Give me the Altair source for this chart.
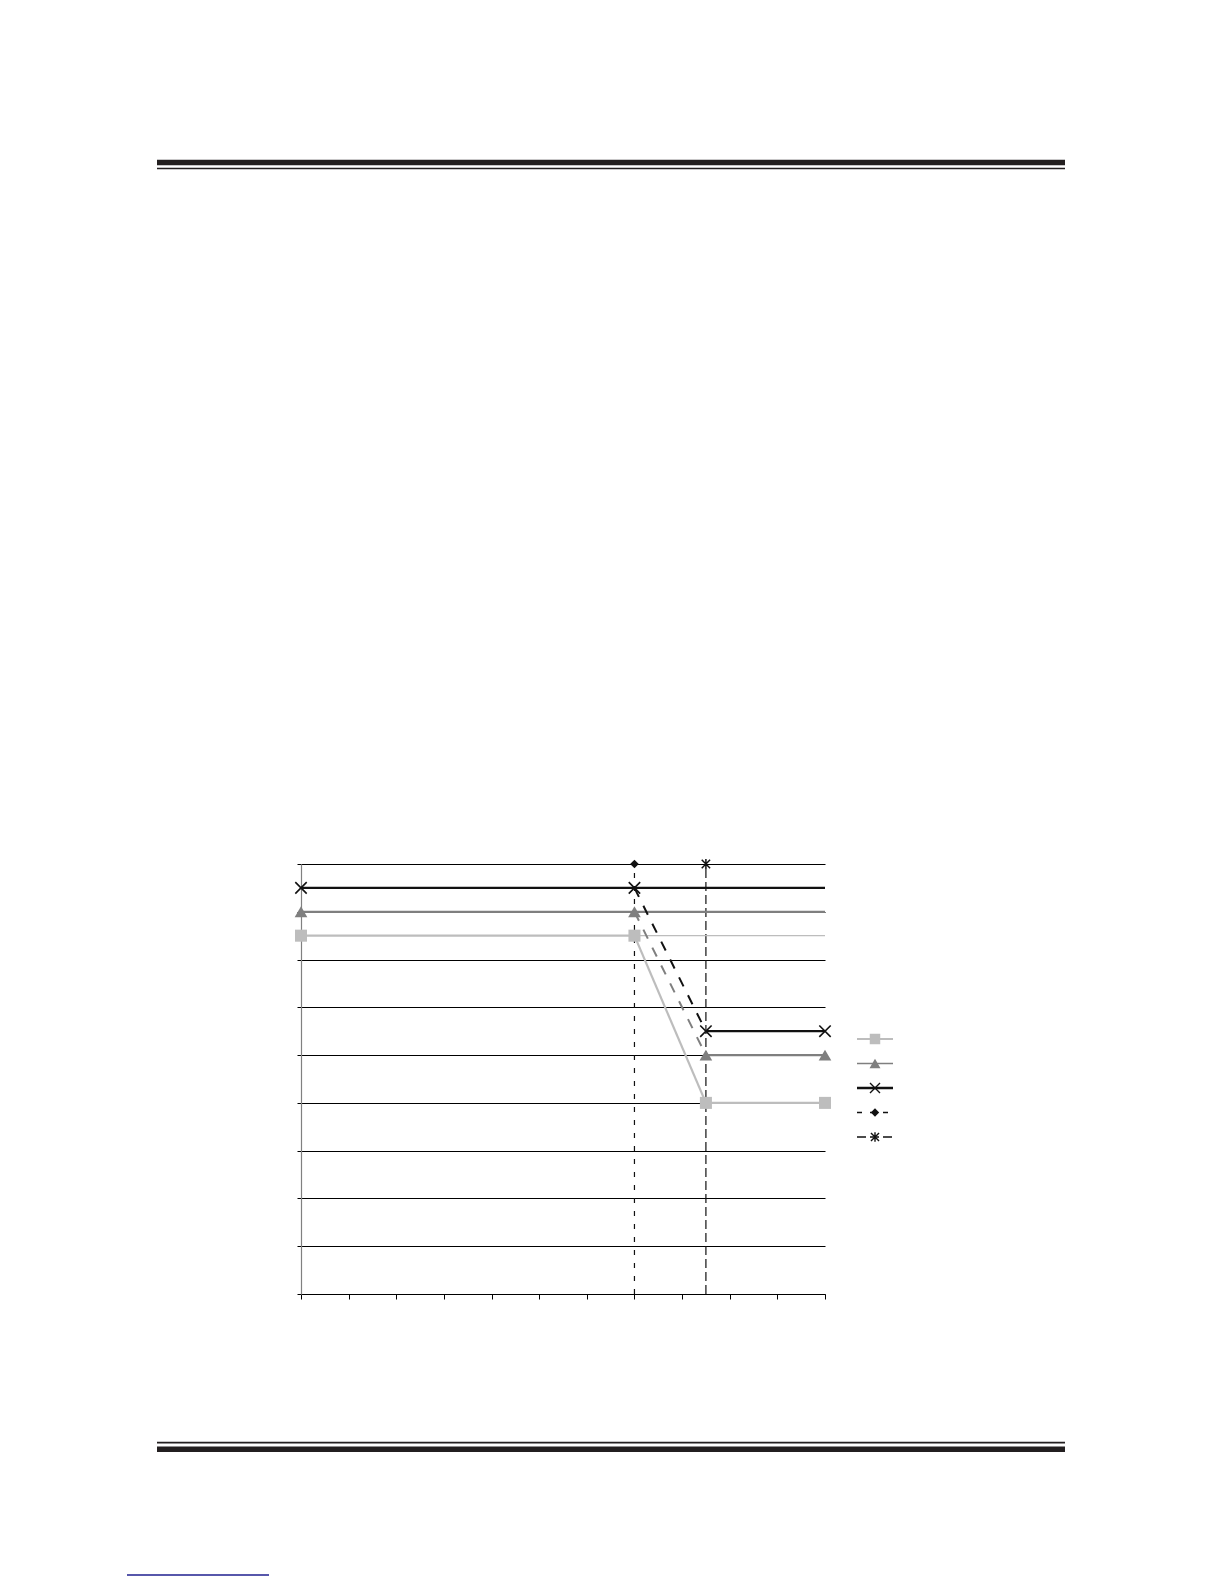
import altair as alt
import pandas as pd

# ---------------- data ----------------
x_ticks = list(range(0, 12))          # 0 .. 11
y_ticks = list(range(0, 10))          # 0 .. 9
x_domain = [0, 11]
y_domain = [0, 9]

event_x = [7, 8.5]                    # the two vertical event lines
event_top = 9                         # level of the event markers

series_x = [0, 7, 8.5, 11]
square_y = [7.5, 7.5, 4.0, 4.0]
triangle_y = [8.0, 8.0, 5.0, 5.0]
cross_y = [8.5, 8.5, 5.5, 5.5]

legend_rows = [0, 1, 2, 3, 4]

# ---------------- styles ----------------
C_LIGHT = "#bdbdbd"
C_MID = "#7f7f7f"
C_BLACK = "#111111"
X_PATH = "M-1,-1L1,1M-1,1L1,-1"
AST_PATH = "M-1,-1L1,1M-1,1L1,-1M0,-1.2L0,1.2"

PLOT_W, PLOT_H = 524, 430

xscale = alt.Scale(domain=x_domain, nice=False, zero=False)
yscale = alt.Scale(domain=y_domain, nice=False, zero=False)
xaxis = alt.Axis(values=x_ticks, labels=False, title=None, grid=False,
                 domainColor="#000000", domainWidth=1, tickColor="#000000",
                 tickSize=5, tickWidth=1)
yaxis = alt.Axis(values=y_ticks, labels=False, title=None, grid=True,
                 gridColor="#000000", gridWidth=1, gridOpacity=1,
                 domainColor="#808080", domainWidth=1.2, tickColor="#000000",
                 tickSize=4, tickWidth=1)


def seg_df(xs, ys):
    rows = []
    rows.append(dict(part="before", x=xs[0], y=ys[0], x2=xs[1], y2=ys[1]))
    rows.append(dict(part="drop", x=xs[1], y=ys[1], x2=xs[2], y2=ys[2]))
    rows.append(dict(part="after", x=xs[2], y=ys[2], x2=xs[3], y2=ys[3]))
    rows.append(dict(part="cont", x=xs[1], y=ys[1], x2=xs[3], y2=ys[1]))
    return pd.DataFrame(rows)


def seg_layer(df, parts, color, width, dash=None):
    d = df[df["part"].isin(parts)]
    kw = dict(color=color, strokeWidth=width, strokeCap="butt")
    if dash:
        kw["strokeDash"] = dash
    return alt.Chart(d).mark_rule(**kw).encode(
        x=alt.X("x:Q", scale=xscale, axis=xaxis),
        x2="x2:Q",
        y=alt.Y("y:Q", scale=yscale, axis=yaxis),
        y2="y2:Q",
    )


def pts_layer(xs, ys, shape, color, size, filled=True, sw=1.5):
    d = pd.DataFrame({"x": xs, "y": ys})
    if filled:
        m = alt.Chart(d).mark_point(shape=shape, filled=True, color=color,
                                    size=size, opacity=1)
    else:
        m = alt.Chart(d).mark_point(shape=shape, filled=False, color=color,
                                    size=size, strokeWidth=sw, opacity=1)
    return m.encode(x=alt.X("x:Q", scale=xscale, axis=xaxis),
                    y=alt.Y("y:Q", scale=yscale, axis=yaxis))


sq = seg_df(series_x, square_y)
tri = seg_df(series_x, triangle_y)
crs = seg_df(series_x, cross_y)

ev_df = pd.DataFrame({"x": event_x, "y": [0, 0], "y2": [event_top, event_top],
                      "kind": ["diamond", "asterisk"]})
ev1 = alt.Chart(ev_df[ev_df.kind == "diamond"]).mark_rule(
    color=C_BLACK, strokeWidth=1.2, strokeDash=[5, 8]).encode(
    x=alt.X("x:Q", scale=xscale, axis=xaxis),
    y=alt.Y("y:Q", scale=yscale, axis=yaxis), y2="y2:Q")
ev2 = alt.Chart(ev_df[ev_df.kind == "asterisk"]).mark_rule(
    color=C_BLACK, strokeWidth=1.2, strokeDash=[9, 4]).encode(
    x=alt.X("x:Q", scale=xscale, axis=xaxis),
    y=alt.Y("y:Q", scale=yscale, axis=yaxis), y2="y2:Q")

main = alt.layer(
    ev1, ev2,
    seg_layer(sq, ["cont"], C_LIGHT, 1.3),
    seg_layer(tri, ["before", "cont", "after"], C_MID, 2.2),
    seg_layer(crs, ["before", "cont", "after"], C_BLACK, 2.2),
    seg_layer(tri, ["drop"], C_MID, 2.0, [10, 10]),
    seg_layer(crs, ["drop"], C_BLACK, 2.0, [10, 10]),
    seg_layer(sq, ["before", "drop", "after"], C_LIGHT, 2.2),
    pts_layer(series_x, square_y, "square", C_LIGHT, 145),
    pts_layer(series_x, triangle_y, "triangle-up", C_MID, 160),
    pts_layer(series_x, cross_y, X_PATH, C_BLACK, 130, filled=False, sw=1.6),
    pts_layer([event_x[0]], [event_top], "diamond", C_BLACK, 75),
    pts_layer([event_x[1]], [event_top], AST_PATH, C_BLACK, 70, filled=False, sw=1.5),
)

# ---------------- legend (no labels, as in the reference) ----------------
leg_scale = alt.Scale(domain=[0, 4], range=[175, 273])
leg_specs = [
    dict(color=C_LIGHT, width=2.2, dash=None, shape="square", filled=True, size=110),
    dict(color=C_MID, width=1.6, dash=None, shape="triangle-up", filled=True, size=120),
    dict(color=C_BLACK, width=2.6, dash=None, shape=X_PATH, filled=False, size=100),
    dict(color=C_BLACK, width=1.3, dash=[5, 8], shape="diamond", filled=True, size=70),
    dict(color=C_BLACK, width=1.6, dash=[9, 4], shape=AST_PATH, filled=False, size=65),
]
leg_layers = []
for r, spec in zip(legend_rows, leg_specs):
    d = pd.DataFrame({"row": [r]})
    kw = dict(color=spec["color"], strokeWidth=spec["width"], strokeCap="butt")
    if spec["dash"]:
        kw["strokeDash"] = spec["dash"]
    leg_layers.append(alt.Chart(d).mark_rule(**kw).encode(
        x=alt.value(556), x2=alt.value(592),
        y=alt.Y("row:Q", scale=leg_scale, axis=None)))
    if spec["filled"]:
        pm = alt.Chart(d).mark_point(shape=spec["shape"], filled=True,
                                     color=spec["color"], size=spec["size"], opacity=1)
    else:
        pm = alt.Chart(d).mark_point(shape=spec["shape"], filled=False,
                                     color=spec["color"], size=spec["size"],
                                     strokeWidth=1.4, opacity=1)
    leg_layers.append(pm.encode(x=alt.value(574),
                                y=alt.Y("row:Q", scale=leg_scale, axis=None)))
legend = alt.layer(*leg_layers)

# ---------------- page rules (header / footer decoration) ----------------
one = pd.DataFrame({"k": [0]})
deco = alt.layer(
    alt.Chart(one).mark_rule(color="#231f20", strokeWidth=5.5, strokeCap="butt").encode(
        x=alt.value(-144), x2=alt.value(764), y=alt.value(-701.5)),
    alt.Chart(one).mark_rule(color="#231f20", strokeWidth=1.5, strokeCap="butt").encode(
        x=alt.value(-144), x2=alt.value(764), y=alt.value(-695.5)),
    alt.Chart(one).mark_rule(color="#231f20", strokeWidth=1.8, strokeCap="butt").encode(
        x=alt.value(-144), x2=alt.value(764), y=alt.value(578.7)),
    alt.Chart(one).mark_rule(color="#231f20", strokeWidth=5.5, strokeCap="butt").encode(
        x=alt.value(-144), x2=alt.value(764), y=alt.value(585.3)),
    alt.Chart(one).mark_rule(color="#1f1f8f", strokeWidth=1.5, strokeCap="butt").encode(
        x=alt.value(-174), x2=alt.value(-32), y=alt.value(711)),
)

chart = alt.layer(main, legend, deco).resolve_scale(y="independent").properties(
    width=PLOT_W, height=PLOT_H,
    padding={"left": 293, "top": 856, "right": 391, "bottom": 282},
    autosize=alt.AutoSizeParams(type="none"),
    background="white",
).configure_view(stroke=None)

chart.save("out.html", embed_options={"renderer": "svg", "actions": False})
